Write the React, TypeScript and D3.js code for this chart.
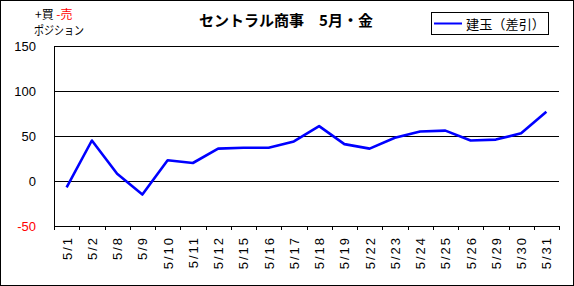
import React from "react";
import * as d3 from "d3";

const categories = ["5/1","5/2","5/8","5/9","5/10","5/11","5/12","5/15","5/16","5/17","5/18","5/19","5/22","5/23","5/24","5/25","5/26","5/29","5/30","5/31"];
const values = [-7, 45, 8, -15, 23, 20, 36, 37, 37, 44, 61, 41, 36, 48, 55, 56, 45, 46, 53, 77];
const yTicks = [150, 100, 50, 0, -50];
const title = "セントラル商事　5月・金";
const seriesName = "建玉（差引）";

const W = 574, H = 286;
const L = 54, R = 559, T = 46, B = 226;
const JP = "'Noto Sans CJK JP', sans-serif";
const NUM = "'Liberation Sans', Arial, sans-serif";

export default function App() {
  const x = d3.scaleBand<string>().domain(categories).range([L, R]);
  const y = d3.scaleLinear().domain([-50, 150]).range([B, T]);
  const line = d3.line<number>()
    .x((_, i) => (x(categories[i]) as number) + x.bandwidth() / 2)
    .y((d) => y(d));
  const bounds = categories.map((c) => x(c) as number).concat([R]);

  return (
    <svg width={W} height={H} style={{ position: "fixed", left: 0, top: 0, background: "#fff" }}>
      <rect x={0.5} y={0.5} width={W - 1} height={H - 1} fill="#fff" stroke="#000" strokeWidth={1} />
      {/* top-left label */}
      <text x={35} y={19} fontFamily={JP} fontSize={12}>
        <tspan fill="#000">+買 </tspan>
        <tspan fill="#ff0000">-売</tspan>
      </text>
      <text x={34} y={35} fontFamily={JP} fontSize={12} textLength={50} lengthAdjust="spacingAndGlyphs">ポジション</text>
      {/* title */}
      <text x={286} y={26} textAnchor="middle" fontFamily={JP} fontSize={15} fontWeight="bold" fill="#000">{title}</text>
      {/* legend */}
      <rect x={431.5} y={12.5} width={117} height={22} fill="#fff" stroke="#000" strokeWidth={1} />
      <line x1={434} x2={462} y1={23.5} y2={23.5} stroke="#0000ff" strokeWidth={2} />
      <text x={466} y={28.5} fontFamily={JP} fontSize={13} fill="#000" textLength={79} lengthAdjust="spacingAndGlyphs">{seriesName}</text>
      {/* gridlines */}
      {yTicks.filter((v) => v > -50).map((v) => (
        <line key={v} x1={L} x2={R} y1={Math.round(y(v)) + 0.5} y2={Math.round(y(v)) + 0.5} stroke="#000" strokeWidth={1} />
      ))}
      {/* axes */}
      <line x1={L + 0.5} x2={L + 0.5} y1={T} y2={B + 1} stroke="#000" strokeWidth={1} />
      <line x1={L} x2={R + 1} y1={B + 0.5} y2={B + 0.5} stroke="#000" strokeWidth={1} />
      {bounds.map((bx, i) => (
        <line key={i} x1={Math.round(bx) + 0.5} x2={Math.round(bx) + 0.5} y1={B} y2={B + 4} stroke="#000" strokeWidth={1} />
      ))}
      {/* y labels */}
      {yTicks.map((v) => (
        <text key={v} x={36} y={y(v) + 5} textAnchor="end" fontFamily={NUM} fontSize={13} fill={v < 0 ? "#ff0000" : "#000"}>{v}</text>
      ))}
      {/* x labels */}
      {categories.map((c) => {
        const cx = (x(c) as number) + x.bandwidth() / 2;
        return (
          <text key={c} transform={`translate(${cx + 5},236) rotate(-90)`} textAnchor="end" fontFamily={NUM} fontSize={13} letterSpacing={2} fill="#000">{c}</text>
        );
      })}
      {/* series */}
      <path d={line(values) || ""} fill="none" stroke="#0000ff" strokeWidth={2.6} strokeLinejoin="round" />
    </svg>
  );
}
